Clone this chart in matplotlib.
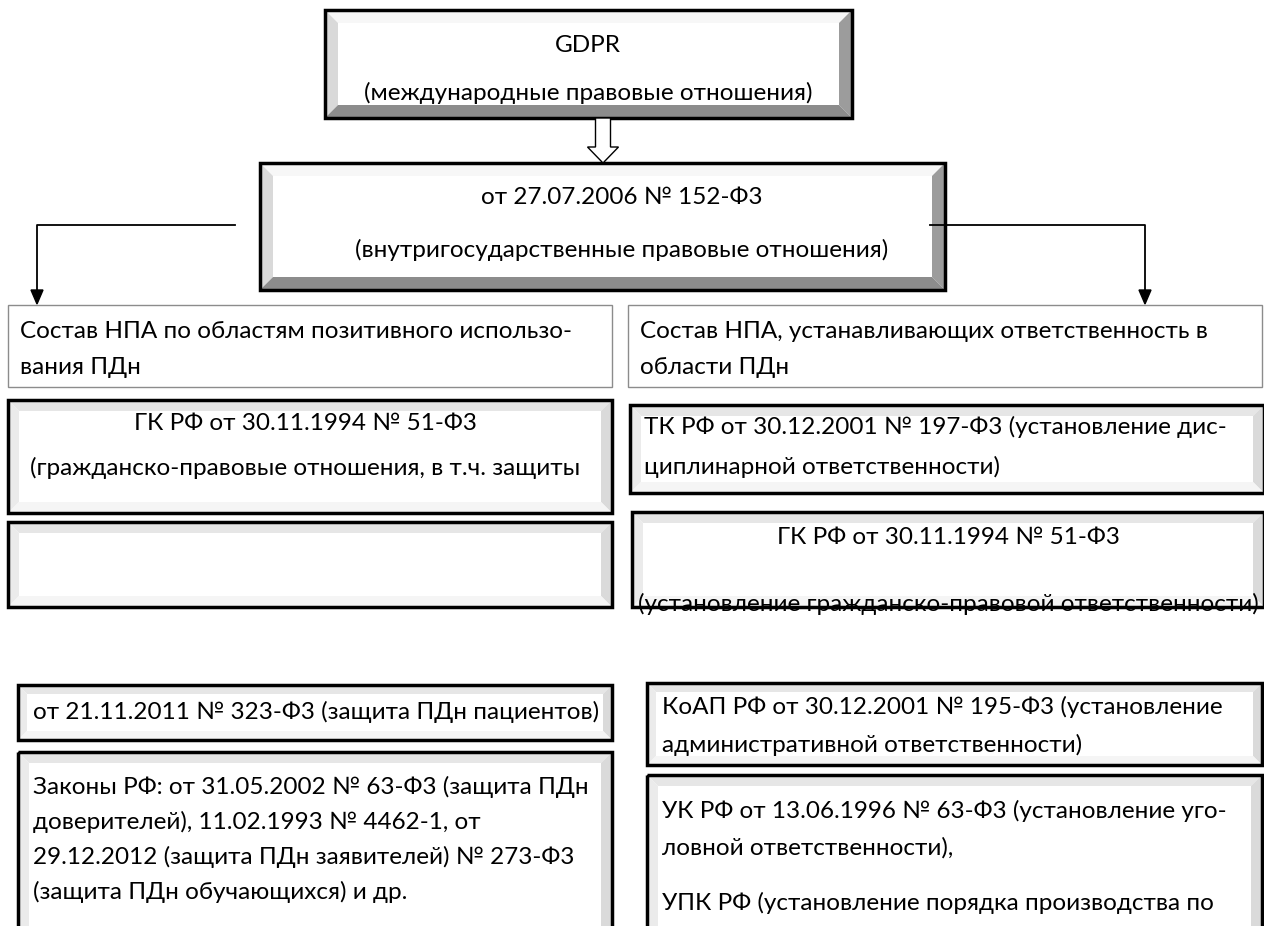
import matplotlib
matplotlib.use("Agg")
import matplotlib.pyplot as plt
from matplotlib.patches import Polygon, Rectangle, FancyArrow

plt.rcParams['font.family'] = ['Lato', 'DejaVu Sans']

W, H = 1264, 926
FONT_SIZE = 17.5

# texts of the diagram
TOP_LINES = ["GDPR", "(международные правовые отношения)"]
LAW_LINES = ["от 27.07.2006 № 152-Ф3", "(внутригосударственные правовые отношения)"]
LEFT_HEAD = ["Состав НПА по областям позитивного использо-", "вания ПДн"]
RIGHT_HEAD = ["Состав НПА, устанавливающих ответственность в", "области ПДн"]
LEFT_GK = ["ГК РФ от 30.11.1994 № 51-Ф3", "(гражданско-правовые отношения, в т.ч. защиты"]
RIGHT_TK = ["ТК РФ от 30.12.2001 № 197-Ф3 (установление дис-", "циплинарной ответственности)"]
RIGHT_GK = ["ГК РФ от 30.11.1994 № 51-Ф3", "(установление гражданско-правовой ответственности)"]
LEFT_323 = ["от 21.11.2011 № 323-Ф3 (защита ПДн пациентов)"]
LEFT_LAWS = ["Законы РФ: от 31.05.2002 № 63-Ф3 (защита ПДн",
             "доверителей), 11.02.1993 № 4462-1, от",
             "29.12.2012 (защита ПДн заявителей) № 273-Ф3",
             "(защита ПДн обучающихся) и др."]
RIGHT_KOAP = ["КоАП РФ от 30.12.2001 № 195-Ф3 (установление", "административной ответственности)"]
RIGHT_UK = ["УК РФ от 13.06.1996 № 63-Ф3 (установление уго-", "ловной ответственности),", "",
            "УПК РФ (установление порядка производства по"]

BIG_BEVEL = ('#f7f7f7', '#d9d9d9', '#9c9c9c', '#8c8c8c')    # top, left, right, bottom
SOFT_BEVEL = ('#e6e6e6', '#ebebeb', '#dadada', '#f5f5f5')


def bevel_box(ax, x0, y0, x1, y1, b, colors, lw=2.5, ec='black'):
    top, left, right, bottom = colors
    ax.add_patch(Rectangle((x0, y0), x1 - x0, y1 - y0, fc='white', ec='none', zorder=1))
    polys = [
        ([(x0, y0), (x1, y0), (x1 - b, y0 + b), (x0 + b, y0 + b)], top),
        ([(x0, y0), (x0 + b, y0 + b), (x0 + b, y1 - b), (x0, y1)], left),
        ([(x1, y0), (x1, y1), (x1 - b, y1 - b), (x1 - b, y0 + b)], right),
        ([(x0, y1), (x1, y1), (x1 - b, y1 - b), (x0 + b, y1 - b)], bottom),
    ]
    for pts, c in polys:
        ax.add_patch(Polygon(pts, closed=True, fc=c, ec='none', zorder=1))
    ax.add_patch(Rectangle((x0, y0), x1 - x0, y1 - y0, fc='none', ec=ec, lw=lw, zorder=3))


def put_lines(ax, lines, x, ys, ha='left', clip=None):
    for line, y in zip(lines, ys):
        t = ax.text(x, y, line, ha=ha, va='center', fontsize=FONT_SIZE, color='black', zorder=2)
        if clip is not None:
            t.set_clip_path(clip)


fig = plt.figure(figsize=(W / 100, H / 100), dpi=100)
ax = fig.add_axes([0, 0, 1, 1])
ax.set_xlim(0, W)
ax.set_ylim(H, 0)
ax.axis('off')

# GDPR
bevel_box(ax, 325, 10, 852, 118, 13, BIG_BEVEL, lw=2.5)
put_lines(ax, TOP_LINES, 588, [45, 93], ha='center')

# block arrow
ax.add_patch(FancyArrow(603, 118, 0, 45, width=15, head_width=31, head_length=16,
                        length_includes_head=True, fc='white', ec='black', lw=1, zorder=4))

# 152-FZ
bevel_box(ax, 260, 163, 945, 290, 13, BIG_BEVEL, lw=2.5)
put_lines(ax, LAW_LINES, 622, [198, 250], ha='center')

# connectors
ax.plot([235, 37, 37], [225, 225, 290], color='black', lw=1.3, zorder=5)
ax.add_patch(Polygon([(31, 290), (43, 290), (37, 304)], fc='black', ec='black', zorder=5))
ax.plot([930, 1145, 1145], [225, 225, 290], color='black', lw=1.3, zorder=5)
ax.add_patch(Polygon([(1139, 290), (1151, 290), (1145, 304)], fc='black', ec='black', zorder=5))

# headers
ax.add_patch(Rectangle((8, 305), 604, 82, fc='white', ec='#8c8c8c', lw=1, zorder=1))
put_lines(ax, LEFT_HEAD, 20, [332, 368])
ax.add_patch(Rectangle((628, 305), 634, 82, fc='white', ec='#8c8c8c', lw=1, zorder=1))
put_lines(ax, RIGHT_HEAD, 640, [332, 368])

# left column
bevel_box(ax, 8, 400, 612, 513, 11, SOFT_BEVEL)
put_lines(ax, LEFT_GK, 305, [423, 468], ha='center')
bevel_box(ax, 8, 522, 612, 607, 11, SOFT_BEVEL)

# right column
bevel_box(ax, 630, 405, 1264, 493, 11, SOFT_BEVEL)
put_lines(ax, RIGHT_TK, 644, [427, 467])
bevel_box(ax, 632, 512, 1264, 607, 11, SOFT_BEVEL)
gk_clip = Rectangle((632, 512), 632, 88, transform=ax.transData)
put_lines(ax, RIGHT_GK, 948, [537, 604], ha='center', clip=gk_clip)

# bottom left
bevel_box(ax, 18, 685, 612, 740, 9, SOFT_BEVEL)
put_lines(ax, LEFT_323, 33, [712])
bevel_box(ax, 18, 752, 612, 940, 11, SOFT_BEVEL)
put_lines(ax, LEFT_LAWS, 33, [787, 822, 857, 892])

# bottom right
bevel_box(ax, 647, 683, 1262, 765, 9, SOFT_BEVEL)
put_lines(ax, RIGHT_KOAP, 662, [707, 745])
bevel_box(ax, 647, 775, 1262, 940, 11, SOFT_BEVEL)
put_lines(ax, RIGHT_UK, 662, [811, 848, 876, 903])

fig.savefig('out.png', dpi=100)
